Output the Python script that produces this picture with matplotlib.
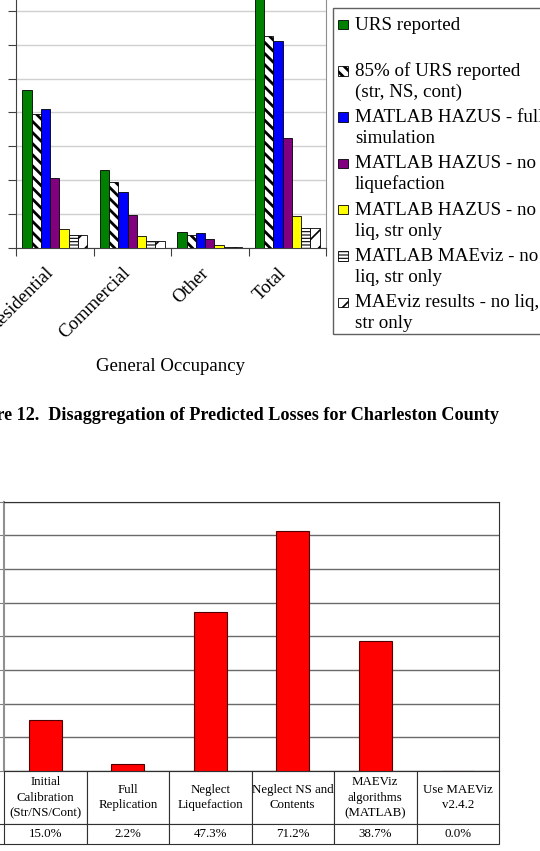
import numpy as np
import matplotlib
matplotlib.use("Agg")
import matplotlib.pyplot as plt
import matplotlib.transforms as mtransforms
from matplotlib.patches import Rectangle

plt.rcParams['font.family'] = ['Liberation Serif', 'DejaVu Serif']

# ------------------------------
# Data - top chart (losses by occupancy, read off in grid units)
occupancy = ["Residential", "Commercial", "Other", "Total"]
urs_reported = [4.67, 2.30, 0.46, 7.40]
urs_85 = [3.96, 1.95, 0.38, 6.27]
hazus_full = [4.09, 1.66, 0.43, 6.13]
hazus_no_liq = [2.06, 0.97, 0.25, 3.25]
hazus_no_liq_str = [0.54, 0.35, 0.08, 0.94]
maeviz_matlab = [0.37, 0.20, 0.03, 0.57]
maeviz_results = [0.37, 0.20, 0.03, 0.57]

series_labels = ["URS reported",
                 "85% of URS reported\n(str, NS, cont)",
                 "MATLAB HAZUS - full\nsimulation",
                 "MATLAB HAZUS - no\nliquefaction",
                 "MATLAB HAZUS - no\nliq, str only",
                 "MATLAB MAEviz - no\nliq, str only",
                 "MAEviz results - no liq,\nstr only"]

# Data - bottom chart (error per calibration step)
steps = ["Initial\nCalibration\n(Str/NS/Cont)", "Full\nReplication", "Neglect\nLiquefaction",
         "Neglect NS and\nContents", "MAEViz\nalgorithms\n(MATLAB)", "Use MAEViz\nv2.4.2"]
error_pct = [15.0, 2.2, 47.3, 71.2, 38.7, 0.0]

# ------------------------------
W, H = 540, 851
fig = plt.figure(figsize=(W / 100, H / 100), dpi=100)


def box(x0, y0, x1, y1):
    # pixel box (top-left origin) -> figure fraction rect
    return [x0 / W, 1 - y1 / H, (x1 - x0) / W, (y1 - y0) / H]


# styles per series: (facecolor, hatch, hatch linewidth)
styles = [("#008000", None, 1.0),
          ("white", "\\\\\\", 2.0),
          ("#0000FF", None, 1.0),
          ("#800080", None, 1.0),
          ("#FFFF00", None, 1.0),
          ("white", "-----", 0.8),
          ("white", "//", 1.2)]

# ------------------------------
# Top chart
ax1 = fig.add_axes(box(16, -22.7, 326, 247.7))
all_series = [urs_reported, urs_85, hazus_full, hazus_no_liq,
              hazus_no_liq_str, maeviz_matlab, maeviz_results]
n = len(all_series)
x = np.arange(len(occupancy))
bw = 1 / (n + 1.4)
for i, vals in enumerate(all_series):
    fc, hatch, hlw = styles[i]
    bars = ax1.bar(x + (i - (n - 1) / 2) * bw, vals, bw, color=fc, edgecolor="black",
                   linewidth=0.6, hatch=hatch, zorder=3)
    for b in bars:
        if hasattr(b, "set_hatch_linewidth"):
            b.set_hatch_linewidth(hlw)

ax1.set_xlim(-0.5, len(occupancy) - 0.5)
ax1.set_ylim(0, 8)
ax1.set_yticks(np.arange(0, 9, 1))
ax1.yaxis.grid(True, color="#d0d0d0", linewidth=1.0, zorder=0)
ax1.tick_params(axis="y", labelleft=False, length=6, width=0.8, color="#404040")
ax1.set_xticks(x)
ax1.set_xticklabels(occupancy, rotation=45, ha="right", rotation_mode="anchor", fontsize=13.5)
ax1.tick_params(axis="x", which="major", length=0, pad=12)
ax1.set_xticks(np.arange(-0.5, len(occupancy)), minor=True)
ax1.tick_params(axis="x", which="minor", length=6, width=0.8, color="#404040")
shift = mtransforms.ScaledTranslation(-0.10, 0.0, fig.dpi_scale_trans)
for lab in ax1.get_xticklabels():
    lab.set_transform(lab.get_transform() + shift)
ax1.spines["top"].set_visible(False)
ax1.spines["right"].set_color("#909090")
ax1.spines["left"].set_color("#404040")
ax1.spines["bottom"].set_color("#404040")

fig.text(170.7 / W, 1 - 367 / H, "General Occupancy", fontsize=13.5, ha="center", va="center")
fig.text(499.3 / W, 1 - 420 / H,
         "Figure 12.  Disaggregation of Predicted Losses for Charleston County",
         fontsize=13.1, fontweight="bold", ha="right", va="baseline")

# Legend (drawn by hand to keep Excel's layout)
fig.add_artist(Rectangle((333 / W, 1 - 334 / H), 240 / W, 326 / H, transform=fig.transFigure,
                         facecolor="white", edgecolor="#606060", linewidth=1.0))
for i, lab in enumerate(series_labels):
    base = 29.5 + i * 46.3
    fc, hatch, hlw = styles[i]
    sq = Rectangle((338.3 / W, 1 - (base - 0.3) / H), 9.4 / W, 9.4 / H, transform=fig.transFigure,
                   facecolor=fc, edgecolor="black", linewidth=0.6, hatch=hatch)
    if hatch and hasattr(sq, "set_hatch_linewidth"):
        sq.set_hatch_linewidth(hlw)
    fig.add_artist(sq)
    for k, line in enumerate(lab.split("\n")):
        fig.text(355 / W, 1 - (base + 21 * k) / H, line, fontsize=13.7, ha="left", va="baseline")

# ------------------------------
# Bottom chart
ax2 = fig.add_axes(box(4, 501.6, 499, 771))
xb = np.arange(len(steps))
ax2.bar(xb, error_pct, 0.4, color="#FF0000", edgecolor="#500000", linewidth=0.8, zorder=3)
ax2.set_xlim(-0.5, len(steps) - 0.5)
ax2.set_ylim(0, 80)
ax2.set_yticks(np.arange(0, 81, 10))
ax2.yaxis.grid(True, color="#6a6a6a", linewidth=1.0, zorder=0)
ax2.tick_params(axis="y", labelleft=False, length=5, width=0.8, color="#808080")
ax2.set_xticks([])
for s in ["top", "right", "bottom"]:
    ax2.spines[s].set_color("#303030")
ax2.spines["left"].set_color("#909090")
ax2.spines["left"].set_linewidth(1.5)

table = ax2.table(cellText=[[f"{v:.1f}%" for v in error_pct]], colLabels=steps,
                  cellLoc="center", bbox=[0, -72.7 / 269.4, 1, 72.7 / 269.4])
table.auto_set_font_size(False)
for (r, c), cell in table.get_celld().items():
    cell.set_edgecolor("#303030")
    cell.set_linewidth(0.8)
    cell.set_height(53 if r == 0 else 19.4)
    t = cell.get_text()
    t.set_fontsize(9.3)
    t.set_fontfamily(["Liberation Serif"])
    t.set_linespacing(1.4)

# left edge of the (cut-off) row label column
fig.add_artist(plt.Line2D([0, 4 / W], [1 - 824.3 / H, 1 - 824.3 / H], transform=fig.transFigure,
                          color="#303030", linewidth=0.8))
fig.add_artist(plt.Line2D([0, 4 / W], [1 - 843.7 / H, 1 - 843.7 / H], transform=fig.transFigure,
                          color="#303030", linewidth=0.8))

fig.savefig("out.png", dpi=100)
